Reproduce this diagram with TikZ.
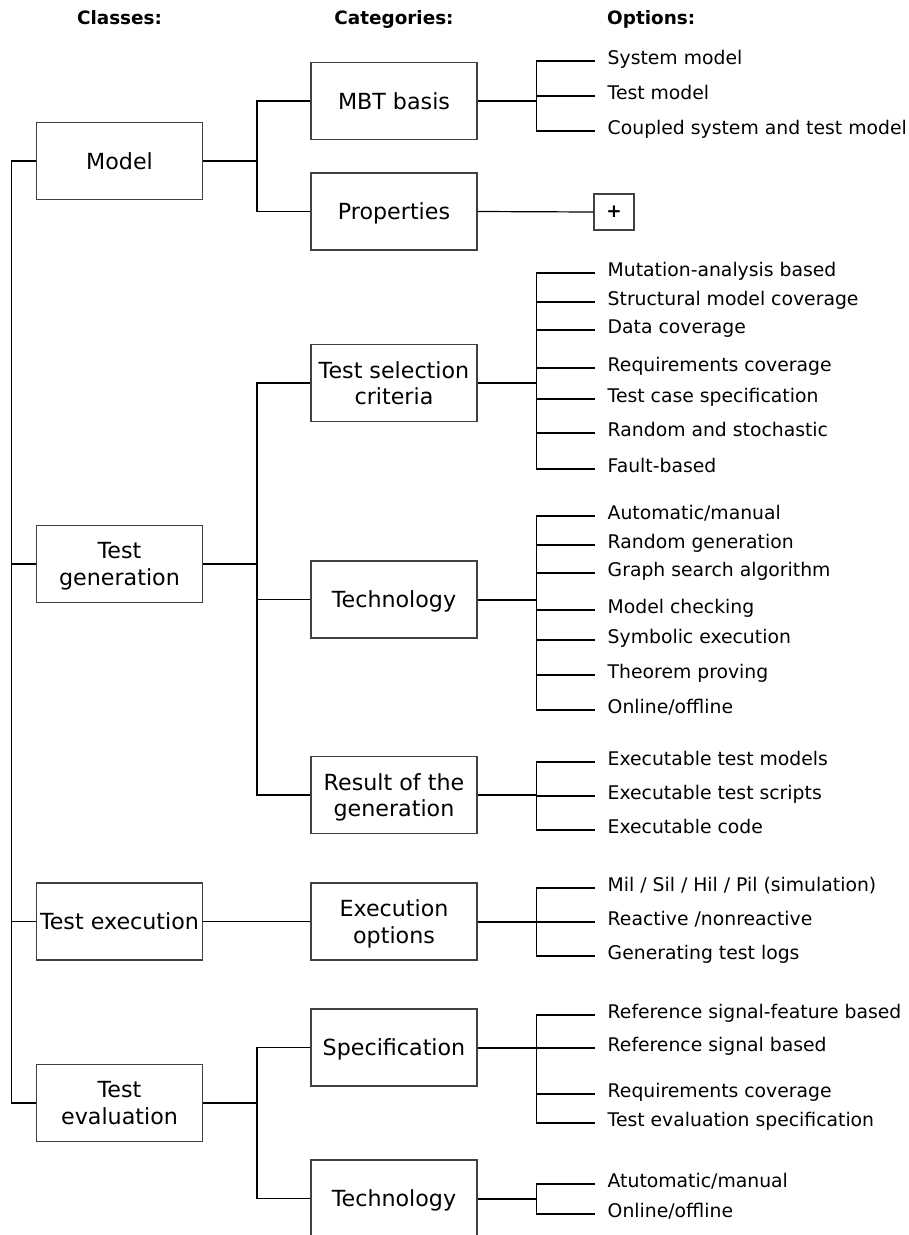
\documentclass[tikz,border=0pt]{standalone}
\usepackage{fontspec}
\setmainfont{DejaVu Sans}
\definecolor{boxline}{gray}{0.25}
\newcommand\bxfont{\fontsize{22.2}{26.7}\selectfont}
\newcommand\opfont{\fontsize{18.8}{22}\selectfont}
\newcommand\hdfont{\fontsize{18.4}{22}\selectfont\bfseries}
\begin{document}
\begin{tikzpicture}[x=1pt,y=-1pt,
  every node/.style={inner sep=0pt},
  boxnode/.style={draw=boxline, line width=1.1pt, minimum width=166pt,
    minimum height=77pt, align=center, font=\bxfont, text depth=0pt},
  optnode/.style={anchor=west, inner xsep=12.5pt, font=\opfont,
    text height=0.76em, text depth=0pt},
  hdrnode/.style={font=\hdfont, text height=0.76em, text depth=0pt},
  conn/.style={line width=1.2pt},
  feed/.style={line width=2pt},
]
\useasboundingbox (0,0) rectangle (909,1235);
\clip (0,0) rectangle (909,1235);

% column headings
\node[hdrnode] (hcls) at (119.5,21) {Classes:};
\node[hdrnode] (hcat) at (394,21) {Categories:};
\node[hdrnode, anchor=west] (hopt) at (607,21) {Options:};

% classes
\node[boxnode] (model) at (119.5,161) {Model};
\node[boxnode] (tgen) at (119.5,564) {Test\\generation};
\node[boxnode] (texec) at (119.5,921.5) {Test execution};
\node[boxnode] (teval) at (119.5,1103) {Test\\evaluation};

% trunk on the left
\coordinate (trunk) at (11.5,161);
\draw[conn] (model.west) -- (trunk) -- (trunk |- teval.west) -- (teval.west);
\draw[conn] (trunk |- tgen.west) -- (tgen.west);
\draw[conn] (trunk |- texec.west) -- (texec.west);

% categories
\node[boxnode] (mbt) at (394,101) {MBT basis};
\node[boxnode] (props) at (394,211.5) {Properties};
\node[boxnode] (tsel) at (394,383) {Test selection\\criteria};
\node[boxnode] (tech) at (394,599.5) {Technology};
\node[boxnode] (res) at (394,795) {Result of the\\generation};
\node[boxnode] (exopt) at (394,921.5) {Execution\\options};
\node[boxnode] (spec) at (394,1047.5) {Specification};
\node[boxnode] (etech) at (394,1198.5) {Technology};

% class to category links
\coordinate (jm) at (257,161);
\draw[conn] (model.east) -- (jm);
\draw[conn] (mbt.west) -| (jm) |- (props.west);

\coordinate (jg) at (257,564);
\draw[conn] (tgen.east) -- (jg);
\draw[conn] (tsel.west) -| (jg) |- (res.west);
\draw[conn] (tech.west) -- (tech.west -| jg);

\draw[conn] (texec.east) -- (exopt.west);

\coordinate (je) at (257,1103);
\draw[conn] (teval.east) -- (je);
\draw[conn] (spec.west) -| (je) |- (etech.west);

% the plus box
\node[draw=boxline, line width=1.1pt, minimum width=40pt, minimum height=36pt,
  font=\hdfont] (plus) at (614,212) {+};
\draw[conn] (props.east) -- (plus.west);

% options: each list hangs from a junction right of its category
\foreach \cat/\list in {
  mbt/{61/{System model}, 96/{Test model}, 131/{Coupled system and test model}},
  tsel/{273/{Mutation-analysis based}, 302/{Structural model coverage},
        330/{Data coverage}, 368/{Requirements coverage},
        399/{Test case specification}, 433/{Random and stochastic}, 469/{Fault-based}},
  tech/{516/{Automatic/manual}, 545/{Random generation},
        573/{Graph search algorithm}, 610/{Model checking},
        640/{Symbolic execution}, 675/{Theorem proving}, 710/{Online/offline}},
  res/{762/{Executable test models}, 796/{Executable test scripts},
       830/{Executable code}},
  exopt/{888/{Mil / Sil / Hil / Pil (simulation)}, 922/{Reactive /nonreactive},
         956/{Generating test logs}},
  spec/{1015/{Reference signal-feature based}, 1048/{Reference signal based},
        1094/{Requirements coverage}, 1123/{Test evaluation specification}},
  etech/{1184/{Atutomatic/manual}, 1214/{Online/offline}}} {
  \coordinate (\cat-j) at (536.5,0 |- \cat.east);
  \draw[feed] (\cat.east) -- (\cat-j);
  \foreach \yy/\txt [count=\k] in \list {
    \node[optnode] (\cat-o\k) at (595,\yy) {\txt};
    \draw[conn] (\cat-j) |- (\cat-o\k.west);
  }
}
\end{tikzpicture}
\end{document}
